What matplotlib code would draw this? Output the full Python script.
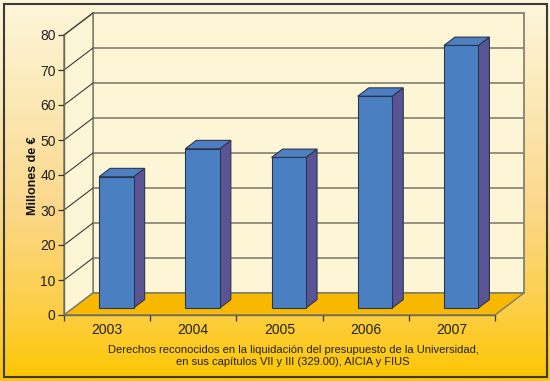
import numpy as np
import matplotlib
matplotlib.use("Agg")
import matplotlib.pyplot as plt
from matplotlib.patches import Polygon, Rectangle
from matplotlib.colors import LinearSegmentedColormap

plt.rcParams['font.family'] = ['Liberation Sans', 'DejaVu Sans']

# ---- data ----
years = ["2003", "2004", "2005", "2006", "2007"]
values = [37.5, 45.5, 43.0, 60.5, 75.0]
y_ticks = [0, 10, 20, 30, 40, 50, 60, 70, 80]
y_label = "Millones de €"
x_label = ("Derechos reconocidos en la liquidación del presupuesto de la Universidad,\n"
           "en sus capítulos VII y III (329.00), AICIA y FIUS")

W, H = 550, 381
fig = plt.figure(figsize=(W / 100, H / 100), dpi=100)

# background gradient
bg = fig.add_axes([0, 0, 1, 1])
bg.set_axis_off()
cmap = LinearSegmentedColormap.from_list(
    "bg", [(0.0, "#fdf6da"), (0.25, "#fce9b8"), (0.55, "#fbd78a"),
           (0.8, "#fccf4a"), (1.0, "#fdc600")])
grad = np.linspace(0, 1, 256).reshape(-1, 1)
bg.imshow(grad, aspect="auto", cmap=cmap, extent=[0, 1, 0, 1], origin="upper")
bg.set_xlim(0, 1); bg.set_ylim(0, 1)
bg.add_patch(Rectangle((4 / W, 4 / H), 543 / W, 373 / H, fill=False,
                       edgecolor="#3a3a3a", lw=1.5))

# main axes: front plane
x0, x1 = 64, 495
y0, y1 = 315, 35
ax = fig.add_axes([x0 / W, (H - y0) / H, (x1 - x0) / W, (y0 - y1) / H])
ax.set_xlim(0, 5)
ax.set_ylim(0, 80)
ax.patch.set_alpha(0)
for s in ax.spines.values():
    s.set_visible(False)

px_x = (x1 - x0) / 5.0
px_y = (y0 - y1) / 80.0
DX = 29 / px_x   # depth offset in x-data units
DY = 22 / px_y   # depth offset in y-data units
ymax = 80
n = len(years)

wall = "#fdf6d6"
edge = "#7a7a6a"
grid = "#8c8a78"

# back wall
ax.add_patch(Polygon([(DX, DY), (n + DX, DY), (n + DX, ymax + DY), (DX, ymax + DY)],
                     closed=True, facecolor=wall, edgecolor=edge, lw=1.2,
                     clip_on=False, zorder=1))
# left wall
ax.add_patch(Polygon([(0, 0), (DX, DY), (DX, ymax + DY), (0, ymax)],
                     closed=True, facecolor=wall, edgecolor=edge, lw=1.0,
                     clip_on=False, zorder=1))
# floor
ax.add_patch(Polygon([(0, 0), (n, 0), (n + DX, DY), (DX, DY)],
                     closed=True, facecolor="#f9b800", edgecolor=edge, lw=1.0,
                     clip_on=False, zorder=2))
# gridlines
for v in y_ticks[1:]:
    ax.plot([DX, n + DX], [v + DY, v + DY], color=grid, lw=1.3,
            clip_on=False, zorder=1.5)
    ax.plot([0, DX], [v, v + DY], color="#3a3a3a", lw=0.8,
            clip_on=False, zorder=1.5)

# bars
bw = 0.4
f0, f1 = 0.32, 0.70
front_c = "#4a80c2"
top_c = "#4e7fc0"
side_c = "#5a5494"
bar_edge = "#2a3550"
for i, v in enumerate(values):
    xl = i + 0.5 - bw / 2 + f0 * DX
    xr = xl + bw
    yb = f0 * DY
    yt = yb + v
    ddx = (f1 - f0) * DX
    ddy = (f1 - f0) * DY
    ax.add_patch(Polygon([(xr, yb), (xr + ddx, yb + ddy), (xr + ddx, yt + ddy), (xr, yt)],
                         closed=True, facecolor=side_c, edgecolor=bar_edge, lw=0.8,
                         clip_on=False, zorder=4))
    ax.add_patch(Polygon([(xl, yt), (xr, yt), (xr + ddx, yt + ddy), (xl + ddx, yt + ddy)],
                         closed=True, facecolor=top_c, edgecolor=bar_edge, lw=0.8,
                         clip_on=False, zorder=4))
    ax.add_patch(Rectangle((xl, yb), bw, v, facecolor=front_c, edgecolor=bar_edge,
                           lw=0.8, clip_on=False, zorder=5))

# front axes lines
ax.plot([0, 0], [0, ymax], color="#6a6a5a", lw=1.0, clip_on=False, zorder=6)
ax.plot([0, n], [0, 0], color="#6a6a5a", lw=1.0, clip_on=False, zorder=6)

ax.set_yticks(y_ticks)
ax.set_yticklabels([str(t) for t in y_ticks], fontsize=10, color="#222222")
ax.set_xticks(np.arange(n + 1))
ax.set_xticklabels([])
ax.set_xticks(np.arange(n) + 0.5, minor=True)
ax.set_xticklabels(years, minor=True, fontsize=10, color="#222222")
ax.tick_params(axis="y", length=4, width=0.9, color="#333333", pad=2)
ax.tick_params(axis="x", which="major", length=4, width=0.9, color="#333333", direction="out")
ax.tick_params(axis="x", which="minor", length=0, pad=6)

ax.set_ylabel(y_label, fontsize=9, fontweight="bold", color="#111111")
ax.yaxis.set_label_coords(-(64 - 39) / (x1 - x0), (y0 - 176) / (y0 - y1))
ax.set_xlabel(x_label, fontsize=8.0, color="#222222", linespacing=1.3)
ax.xaxis.set_label_coords((293 - x0) / (x1 - x0), -(345 - y0) / (y0 - y1))

fig.savefig("out.png", dpi=100)
